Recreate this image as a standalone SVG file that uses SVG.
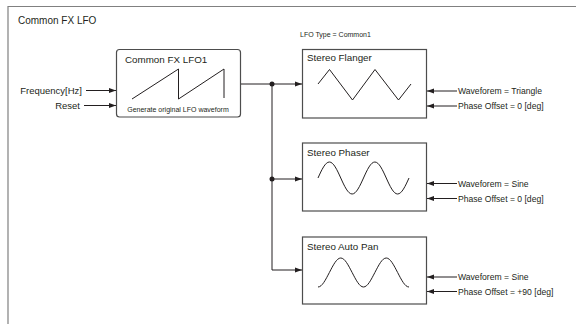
<svg xmlns="http://www.w3.org/2000/svg" width="576" height="324" viewBox="0 0 576 324">
<defs>
<marker id="ah" markerWidth="8" markerHeight="6" refX="7" refY="3" orient="auto" markerUnits="userSpaceOnUse">
<path d="M0,0.6 L7,3 L0,5.4 Z" fill="#231f20"/>
</marker>
</defs>
<style>
text{font-family:"Liberation Sans",Arial,sans-serif;fill:#231f20}
.box{fill:#fff;stroke:#4d4d4d;stroke-width:1.2}
.wave{fill:none;stroke:#231f20;stroke-width:1}
.conn{fill:none;stroke:#231f20;stroke-width:1;marker-end:url(#ah)}
.line{fill:none;stroke:#231f20;stroke-width:1}
.t{font-size:9.8px}
.in{font-size:8.6px}
</style>
<path d="M576,6.5 H8 V324" fill="none" stroke="#808080" stroke-width="1.2"/>
<text x="18" y="24" style="font-size:10px">Common FX LFO</text>
<text x="300" y="37" style="font-size:7px">LFO Type = Common1</text>

<g id="lfo1">
<rect class="box" x="116.5" y="49.5" width="124" height="67.5" rx="3"/>
<text class="t" x="125" y="63">Common FX LFO1</text>
<path class="wave" d="M132,99 L178.5,69 V99 L224,69 V98"/>
<text x="178" y="112" text-anchor="middle" style="font-size:7px">Generate original LFO waveform</text>
</g>

<g id="flanger">
<rect class="box" x="302.5" y="49.5" width="124" height="68.5"/>
<text class="t" x="307" y="61">Stereo Flanger</text>
<path class="wave" d="M318,84 L329.5,69.5 L352.5,100 L375,69.5 L398.5,100 L411,84"/>
</g>

<g id="phaser">
<rect class="box" x="302.5" y="143" width="124" height="68"/>
<text class="t" x="307" y="156">Stereo Phaser</text>
<path class="wave" d="M318,178 C321.71,169.8 325.26,162 329.375,162 C333.49,162 337.04,169.8 340.75,178 C344.46,186.2 348.01,194 352.125,194 C356.24,194 359.79,186.2 363.5,178 C367.21,169.8 370.76,162 374.875,162 C378.99,162 382.54,169.8 386.25,178 C389.96,186.2 393.51,194 397.625,194 C401.74,194 405.29,186.2 409,178"/>
</g>

<g id="autopan">
<rect class="box" x="302.5" y="237" width="124" height="67"/>
<text class="t" x="307" y="249.5">Stereo Auto Pan</text>
<path class="wave" d="M318,287 C322.115,287 325.665,279.57 329.375,272.5 C333.085,265.43 336.635,258 340.75,258 C344.865,258 348.415,265.43 352.125,272.5 C355.835,279.57 359.385,287 363.5,287 C367.615,287 371.165,279.57 374.875,272.5 C378.585,265.43 382.135,258 386.25,258 C390.365,258 393.915,265.43 397.625,272.5 C401.335,279.57 404.885,287 409,287"/>
</g>

<g id="inputs">
<text x="82" y="93.5" text-anchor="end" style="font-size:9.5px">Frequency[Hz]</text>
<text x="80" y="108.5" text-anchor="end" style="font-size:9.5px">Reset</text>
<text class="in" x="458" y="94">Waveforem = Triangle</text>
<text class="in" x="458" y="109">Phase Offset = 0 [deg]</text>
<text class="in" x="458" y="186.5">Waveforem = Sine</text>
<text class="in" x="458" y="201.5">Phase Offset = 0 [deg]</text>
<text class="in" x="458" y="280">Waveforem = Sine</text>
<text class="in" x="458" y="294.5">Phase Offset = +90 [deg]</text>
</g>

<g id="connectors">
<path class="conn" d="M86,90.5 H116"/>
<path class="conn" d="M84,105.5 H116"/>
<path class="conn" d="M241,84 H302"/>
<path class="conn" d="M272,84 V270 H302"/>
<path class="conn" d="M272,179 H302"/>
<circle cx="272" cy="84" r="2.5" fill="#231f20"/>
<circle cx="272" cy="179" r="2.5" fill="#231f20"/>
<path class="conn" d="M457,91 H427"/>
<path class="conn" d="M457,106 H427"/>
<path class="conn" d="M457,183.5 H427"/>
<path class="conn" d="M457,198.5 H427"/>
<path class="conn" d="M457,277 H427"/>
<path class="conn" d="M457,291.5 H427"/>
</g>
</svg>
